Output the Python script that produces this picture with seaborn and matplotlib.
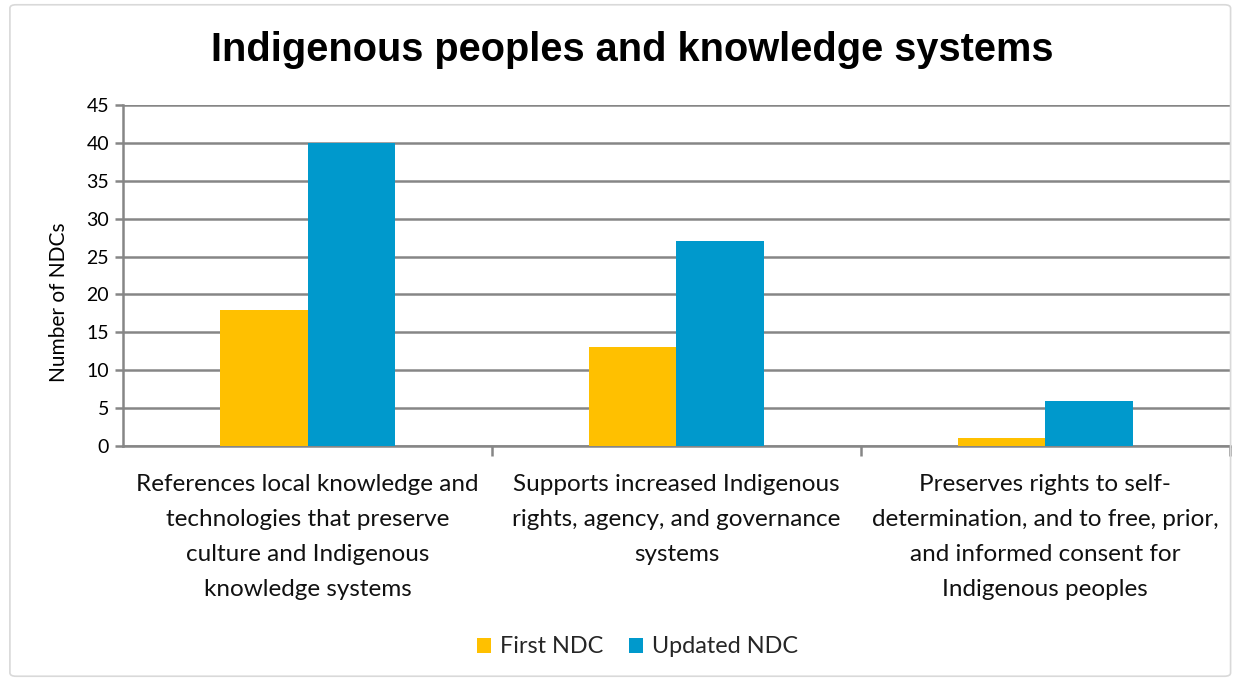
import matplotlib
matplotlib.use("Agg")
import matplotlib.pyplot as plt
from matplotlib.patches import FancyBboxPatch
import pandas as pd
import seaborn as sns

categories = [
    "References local knowledge and\ntechnologies that preserve\nculture and Indigenous\nknowledge systems",
    "Supports increased Indigenous\nrights, agency, and governance\nsystems",
    "Preserves rights to self-\ndetermination, and to free, prior,\nand informed consent for\nIndigenous peoples",
]
series_names = ["First NDC", "Updated NDC"]
first_ndc = [18, 13, 1]
updated_ndc = [40, 27, 6]
y_ticks = [0, 5, 10, 15, 20, 25, 30, 35, 40, 45]

df = pd.DataFrame({
    "category": categories * 2,
    "series": [series_names[0]] * 3 + [series_names[1]] * 3,
    "value": first_ndc + updated_ndc,
})

sns.set_theme(style="white")
plt.rcParams["font.family"] = ["Lato", "DejaVu Sans"]

fig = plt.figure(figsize=(12.38, 6.81), dpi=100)
fig.patches.append(FancyBboxPatch((0.008, 0.007), 0.986, 0.986,
                                  boxstyle="round,pad=0,rounding_size=0.005",
                                  transform=fig.transFigure, fill=False,
                                  edgecolor="#d9d9d9", linewidth=1.2))
ax = fig.add_axes([0.0994, 0.345, 0.894, 0.501])

palette = {"First NDC": "#FFC000", "Updated NDC": "#0099CC"}
sns.barplot(data=df, x="category", y="value", hue="series", palette=palette,
            width=0.476, gap=0, saturation=1, linewidth=0, ax=ax,
            legend=True, zorder=3)

ax.set_ylim(0, 45)
ax.set_xlim(-0.5, 2.5)
ax.set_yticks(y_ticks)
ax.yaxis.grid(True, color="#868686", linewidth=1.8, zorder=0)
ax.set_axisbelow(True)

for side in ["top", "right"]:
    ax.spines[side].set_visible(False)
for side in ["left", "bottom"]:
    ax.spines[side].set_color("#868686")
    ax.spines[side].set_linewidth(1.8)

ax.tick_params(axis="y", which="major", left=True, length=6, width=1.8,
               color="#868686", labelsize=14, pad=4, labelcolor="#000000")
ax.set_xticks([0, 1, 2])
ax.set_xticklabels(categories, fontsize=17.5, color="#111111",
                   linespacing=1.83, va="top")
ax.tick_params(axis="x", which="major", bottom=False, pad=14)
# boundary ticks between categories
ax.set_xticks([0.5, 1.5, 2.5], minor=True)
ax.tick_params(axis="x", which="minor", bottom=True, length=7, width=1.8,
               color="#868686")
ax.set_xlabel("")
ax.set_ylabel("Number of NDCs", fontsize=15, color="#000000")
ax.yaxis.set_label_coords(-0.049, 0.422)

fig.legend(*ax.get_legend_handles_labels(), loc="center",
           bbox_to_anchor=(0.515, 0.05), ncol=2, frameon=False, fontsize=16.8,
           handlelength=0.6, handleheight=0.6, handletextpad=0.4,
           columnspacing=1.1)
ax.get_legend().remove()

fig.text(0.511, 0.926, "Indigenous peoples and knowledge systems",
         ha="center", va="center", fontsize=28.6, fontweight="bold",
         color="#000000", family=["Liberation Sans", "DejaVu Sans"])

fig.savefig("out.png", dpi=100, facecolor="white")
